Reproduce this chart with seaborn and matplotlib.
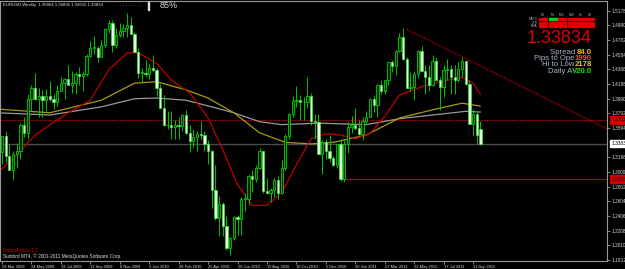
import numpy as np
import pandas as pd
import matplotlib
matplotlib.use("Agg")
import matplotlib.pyplot as plt
from matplotlib.patches import Rectangle
import seaborn as sns

# ---------------- data ----------------
weeks = ["29 Mar 2009","5 Apr 2009","12 Apr 2009","19 Apr 2009","26 Apr 2009","3 May 2009","10 May 2009","17 May 2009",
         "24 May 2009","31 May 2009","7 Jun 2009","14 Jun 2009","21 Jun 2009","28 Jun 2009","5 Jul 2009","12 Jul 2009",
         "19 Jul 2009","26 Jul 2009","2 Aug 2009","9 Aug 2009","16 Aug 2009","23 Aug 2009","30 Aug 2009","6 Sep 2009",
         "13 Sep 2009","20 Sep 2009","27 Sep 2009","4 Oct 2009","11 Oct 2009","18 Oct 2009","25 Oct 2009","1 Nov 2009",
         "8 Nov 2009","15 Nov 2009","22 Nov 2009","29 Nov 2009","6 Dec 2009","13 Dec 2009","20 Dec 2009","27 Dec 2009",
         "3 Jan 2010","10 Jan 2010","17 Jan 2010","24 Jan 2010","31 Jan 2010","7 Feb 2010","14 Feb 2010","21 Feb 2010",
         "28 Feb 2010","7 Mar 2010","14 Mar 2010","21 Mar 2010","28 Mar 2010","4 Apr 2010","11 Apr 2010","18 Apr 2010",
         "25 Apr 2010","2 May 2010","9 May 2010","16 May 2010","23 May 2010","30 May 2010","6 Jun 2010","13 Jun 2010",
         "20 Jun 2010","27 Jun 2010","4 Jul 2010","11 Jul 2010","18 Jul 2010","25 Jul 2010","1 Aug 2010","8 Aug 2010",
         "15 Aug 2010","22 Aug 2010","29 Aug 2010","5 Sep 2010","12 Sep 2010","19 Sep 2010","26 Sep 2010","3 Oct 2010",
         "10 Oct 2010","17 Oct 2010","24 Oct 2010","31 Oct 2010","7 Nov 2010","14 Nov 2010","21 Nov 2010","28 Nov 2010",
         "5 Dec 2010","12 Dec 2010","19 Dec 2010","26 Dec 2010","2 Jan 2011","9 Jan 2011","16 Jan 2011","23 Jan 2011",
         "30 Jan 2011","6 Feb 2011","13 Feb 2011","20 Feb 2011","27 Feb 2011","6 Mar 2011","13 Mar 2011","20 Mar 2011",
         "27 Mar 2011","3 Apr 2011","10 Apr 2011","17 Apr 2011","24 Apr 2011","1 May 2011","8 May 2011","15 May 2011",
         "22 May 2011","29 May 2011","5 Jun 2011","12 Jun 2011","19 Jun 2011","26 Jun 2011","3 Jul 2011","10 Jul 2011",
         "17 Jul 2011","24 Jul 2011","31 Jul 2011","7 Aug 2011","14 Aug 2011","21 Aug 2011","28 Aug 2011","4 Sep 2011",
         "11 Sep 2011","18 Sep 2011","25 Sep 2011"]

opens = [1.3270,1.3480,1.3220,1.3030,1.3240,1.3280,1.3630,1.3530,1.3990,1.4130,1.3980,1.4030,1.3970,1.4030,1.3980,1.3950,
         1.4100,1.4200,1.4250,1.4180,1.4200,1.4330,1.4300,1.4330,1.4570,1.4680,1.4680,1.4560,1.4710,1.4930,1.5010,1.4720,
         1.4850,1.4900,1.4950,1.4990,1.4860,1.4620,1.4340,1.4340,1.4330,1.4410,1.4380,1.4140,1.3860,1.3630,1.3630,1.3610,
         1.3630,1.3620,1.3770,1.3530,1.3420,1.3470,1.3520,1.3500,1.3380,1.3280,1.2760,1.2380,1.2570,1.2270,1.1970,1.2110,
         1.2390,1.2370,1.2640,1.2640,1.2940,1.2900,1.3060,1.3280,1.2750,1.2710,1.2760,1.2890,1.2710,1.3050,1.3490,1.3790,
         1.3960,1.3970,1.3950,1.3940,1.4030,1.3690,1.3670,1.3240,1.3410,1.3290,1.3190,1.3090,1.3380,1.2910,1.3380,1.3610,
         1.3630,1.3590,1.3520,1.3690,1.3750,1.3980,1.3900,1.4180,1.4090,1.4240,1.4480,1.4430,1.4640,1.4820,1.4530,1.4140,
         1.4150,1.4320,1.4640,1.4360,1.4290,1.4180,1.4500,1.4240,1.4150,1.4380,1.4390,1.4280,1.4240,1.4390,1.4500,1.4190,
         1.3650,1.3790,1.35864]
highs = [1.3490,1.3560,1.3380,1.3280,1.3390,1.3660,1.3740,1.4050,1.4180,1.4340,1.4140,1.4110,1.4120,1.4230,1.4060,1.4180,
         1.4280,1.4270,1.4450,1.4370,1.4350,1.4420,1.4360,1.4600,1.4770,1.4840,1.4700,1.4790,1.4940,1.5060,1.5060,1.4940,
         1.5010,1.5000,1.5145,1.5100,1.4890,1.4680,1.4400,1.4510,1.4460,1.4580,1.4400,1.4190,1.4040,1.3820,1.3820,1.3700,
         1.3740,1.3780,1.3840,1.3640,1.3580,1.3560,1.3690,1.3550,1.3430,1.3300,1.3090,1.2670,1.2590,1.2400,1.2120,1.2410,
         1.2420,1.2660,1.2720,1.2970,1.3030,1.3100,1.3330,1.3290,1.2920,1.2780,1.2920,1.2940,1.3160,1.3520,1.3800,1.4030,
         1.4160,1.4040,1.4010,1.4280,1.4070,1.3790,1.3790,1.3430,1.3440,1.3500,1.3220,1.3380,1.3440,1.3440,1.3680,1.3760,
         1.3860,1.3700,1.3740,1.3830,1.4000,1.4040,1.4190,1.4250,1.4250,1.4490,1.4520,1.4650,1.4880,1.4940,1.4560,1.4350,
         1.4360,1.4650,1.4700,1.4440,1.4450,1.4580,1.4550,1.4280,1.4440,1.4530,1.4450,1.4450,1.4480,1.4550,1.4520,1.4250,
         1.3850,1.3810,1.36895]
lows = [1.3110,1.3140,1.3030,1.2890,1.3050,1.3170,1.3470,1.3450,1.3830,1.3970,1.3750,1.3740,1.3820,1.3960,1.3850,1.3890,
        1.4090,1.3990,1.4200,1.4070,1.4050,1.4170,1.4100,1.4300,1.4560,1.4600,1.4480,1.4550,1.4690,1.4880,1.4620,1.4680,
        1.4830,1.4820,1.4830,1.4960,1.4630,1.4270,1.4220,1.4280,1.4260,1.4370,1.4030,1.3860,1.3620,1.3580,1.3440,1.3440,
        1.3440,1.3560,1.3520,1.3270,1.3340,1.3280,1.3450,1.3290,1.3110,1.2520,1.2350,1.2140,1.2140,1.1950,1.1876,1.2080,
        1.2150,1.2150,1.2470,1.2560,1.2730,1.2870,1.3040,1.2720,1.2700,1.2590,1.2660,1.2640,1.2700,1.3030,1.3450,1.3750,
        1.3880,1.3700,1.3700,1.3860,1.3640,1.3450,1.3240,1.2970,1.3170,1.3130,1.3080,1.3050,1.2880,1.2860,1.3260,1.3530,
        1.3570,1.3500,1.3430,1.3650,1.3750,1.3810,1.3740,1.4060,1.4050,1.4170,1.4350,1.4310,1.4620,1.4510,1.4140,1.4090,
        1.3970,1.4270,1.4380,1.4060,1.4100,1.4160,1.4240,1.3840,1.4020,1.4240,1.4050,1.4050,1.4220,1.4280,1.4180,1.3650,
        1.3490,1.3380,1.33615]
closes = [1.3480,1.3220,1.3030,1.3240,1.3280,1.3630,1.3530,1.3990,1.4130,1.3980,1.4030,1.3970,1.4030,1.3980,1.3950,1.4100,
          1.4200,1.4250,1.4180,1.4200,1.4330,1.4300,1.4330,1.4570,1.4680,1.4680,1.4560,1.4710,1.4930,1.5010,1.4720,1.4850,
          1.4900,1.4950,1.4990,1.4860,1.4620,1.4340,1.4340,1.4330,1.4410,1.4380,1.4140,1.3860,1.3630,1.3630,1.3610,1.3630,
          1.3620,1.3770,1.3530,1.3420,1.3470,1.3520,1.3500,1.3380,1.3280,1.2760,1.2380,1.2570,1.2270,1.1970,1.2110,1.2390,
          1.2370,1.2640,1.2640,1.2940,1.2900,1.3060,1.3280,1.2750,1.2710,1.2760,1.2890,1.2710,1.3050,1.3490,1.3790,1.3960,
          1.3970,1.3950,1.3940,1.4030,1.3690,1.3670,1.3240,1.3410,1.3290,1.3190,1.3090,1.3380,1.2910,1.3380,1.3610,1.3630,
          1.3590,1.3520,1.3690,1.3750,1.3980,1.3900,1.4180,1.4090,1.4240,1.4480,1.4430,1.4640,1.4820,1.4530,1.4140,1.4150,
          1.4320,1.4640,1.4360,1.4290,1.4180,1.4500,1.4240,1.4150,1.4380,1.4390,1.4280,1.4240,1.4390,1.4500,1.4190,1.3650,
          1.3790,1.3500,1.33834]

# moving averages, x = week index
ma_red_x = [-1, 4, 9, 14, 18, 24, 29, 34, 37, 42, 46, 51, 56, 60, 64, 68, 72, 76, 80, 84, 88, 92, 96, 100, 104, 108, 114, 119, 125, 128, 130]
ma_red_y = [1.300, 1.323, 1.350, 1.367, 1.380, 1.397, 1.438, 1.461, 1.461, 1.447, 1.424, 1.407, 1.373, 1.330, 1.283, 1.255, 1.255,
            1.272, 1.310, 1.345, 1.352, 1.350, 1.345, 1.352, 1.375, 1.404, 1.415, 1.422, 1.428, 1.420, 1.405]
ma_yel_x = [-1, 13, 27, 36, 42, 50, 56, 63, 70, 77, 84, 90, 99, 108, 117, 125, 130]
ma_yel_y = [1.385, 1.380, 1.397, 1.420, 1.422, 1.411, 1.400, 1.380, 1.353, 1.340, 1.338, 1.340, 1.350, 1.373, 1.384, 1.393, 1.389]
ma_gry_x = [-1, 13, 27, 36, 42, 50, 57, 63, 70, 76, 86, 99, 108, 117, 126, 130]
ma_gry_y = [1.380, 1.377, 1.388, 1.399, 1.400, 1.397, 1.388, 1.380, 1.368, 1.364, 1.366, 1.364, 1.372, 1.377, 1.382, 1.381]

trend_x = [110, 165]
trend_y = [1.4928, 1.3568]
hline_dotted = 1.3703
hline_solid = 1.2905
hline_solid_start = 92
bid_price = 1.33834

ytick_values = [1.51780, 1.49800, 1.47820, 1.45840, 1.43860, 1.41880, 1.39900, 1.37920, 1.35940,
                1.31980, 1.30000, 1.28020, 1.26040, 1.24060, 1.22080, 1.20100, 1.18120]
xtick_labels = ["29 Mar 2009","24 May 2009","19 Jul 2009","13 Sep 2009","8 Nov 2009","3 Jan 2010","28 Feb 2010",
                "25 Apr 2010","20 Jun 2010","15 Aug 2010","10 Oct 2010","5 Dec 2010","30 Jan 2011","27 Mar 2011",
                "22 May 2011","17 Jul 2011","11 Sep 2011"]

header = "EURUSD,Weekly  1.35864 1.36895 1.33615 1.33834"

# ---------------- drawing ----------------
sns.set_theme(style="dark")
plt.rcParams['font.family'] = ['Liberation Sans', 'DejaVu Sans']

W, H = 625, 269
fig = plt.figure(figsize=(W/100, H/100), dpi=100, facecolor="black")
ax = fig.add_axes([0/W, 8/H, 607/W, 260/H])
ax.set_facecolor("black")

df = pd.DataFrame({"week": weeks, "open": opens, "high": highs, "low": lows, "close": closes})
df["i"] = np.arange(len(df))
bull = df["close"] >= df["open"]

ax.vlines(df["i"], df["low"], df["high"], color="#00c400", lw=0.7, zorder=3)
body_lo = np.minimum(df["open"], df["close"])
body_h = np.maximum(np.abs(df["close"] - df["open"]), 0.0006)
ax.bar(df["i"][bull], body_h[bull], bottom=body_lo[bull], width=0.62,
       color="#062806", edgecolor="#00d000", linewidth=0.6, zorder=4)
ax.bar(df["i"][~bull], body_h[~bull], bottom=body_lo[~bull], width=0.62,
       color="#d8ffd8", edgecolor="#40e040", linewidth=0.5, zorder=4)

sns.lineplot(x=ma_gry_x, y=ma_gry_y, ax=ax, color="#9a9a9a", lw=0.9, zorder=2)
sns.lineplot(x=ma_yel_x, y=ma_yel_y, ax=ax, color="#a89a10", lw=0.9, zorder=2)
sns.lineplot(x=ma_red_x, y=ma_red_y, ax=ax, color="#c00000", lw=0.9, zorder=2)

xmin, xmax = -0.54, 164.4
ax.axhline(hline_dotted, color="#c00000", lw=0.8, ls=(0, (1.5, 1)), zorder=1)
ax.hlines(hline_solid, hline_solid_start, xmax, color="#b00000", lw=0.9, zorder=1)
ax.axhline(bid_price, color="#4a4a4a", lw=1.0, zorder=1)
ax.plot(trend_x, trend_y, color="#c00000", lw=0.8, ls=(0, (1.5, 1)), zorder=2)

ax.set_xlim(xmin, xmax)
ax.set_ylim(1.30 - 89/740, 1.30 + 171/740)

for s in ax.spines.values():
    s.set_visible(True)
    s.set_color("#9a9a9a")
    s.set_linewidth(0.8)

ax.yaxis.tick_right()
ax.set_yticks(ytick_values)
ax.set_yticklabels([f"{v:.5f}" for v in ytick_values])
ax.tick_params(axis="y", colors="#9a9a9a", labelcolor="#d8d8d8", labelsize=3.4, length=2, width=0.6, pad=1, right=True)

xpos = [weeks.index(l) for l in xtick_labels]
ax.set_xticks(xpos)
ax.set_xticklabels(xtick_labels, ha="left")
ax.tick_params(axis="x", colors="#9a9a9a", labelcolor="#d8d8d8", labelsize=2.9, length=2, width=0.6, pad=0.8, bottom=True)
ax.set_xlabel(""); ax.set_ylabel("")
ax.grid(False)

# price boxes on the right axis
def price_box(price, text, fc, tc):
    ax.annotate(text, xy=(1.0, price), xycoords=("axes fraction", "data"), xytext=(3, 0),
                textcoords="offset points", fontsize=3.4, color=tc, va="center", ha="left",
                bbox=dict(boxstyle="square,pad=0.25", fc=fc, ec=fc), annotation_clip=False, zorder=10)

price_box(hline_dotted, f"{hline_dotted:.5f}", "#d00000", "#300000")
price_box(bid_price, f"{bid_price:.5f}", "#ffffff", "#000000")
price_box(hline_solid, f"{hline_solid:.5f}", "#d00000", "#300000")

# overlay in pixel coordinates for the terminal texts
ov = fig.add_axes([0, 0, 1, 1], facecolor="none")
ov.set_xlim(0, W); ov.set_ylim(H, 0); ov.axis("off")

ov.text(3, 5, header, fontsize=3.1, color="#e8e8e8", va="center", ha="left")
ov.text(117, 5, ". . : . . . . . .", fontsize=4, color="#a0a0a0", va="center", ha="left")
ov.add_patch(Rectangle((147.5, 1.5), 1.2, 8, color="#e0e0e0"))
ov.text(160, 5.5, "85%", fontsize=6.5, color="#d8d8d8", va="center", ha="left")

cols = ["M1", "M5", "M15", "M30", "H1", "H4"]
col_x = [539, 548.5, 558, 567.5, 577, 586]
for c, cx in zip(cols, col_x):
    ov.text(cx + 4, 14.5, c, fontsize=2.2, color="#b0b0b0", ha="center", va="center")
rows = ["MACD", "STR", "EMA"]
row_y = [18, 21.5, 25]
for r, ry in zip(rows, row_y):
    ov.text(537.5, ry + 1, r, fontsize=2.2, color="#b0b0b0", ha="right", va="center")
    for cx in col_x:
        ov.add_patch(Rectangle((cx, ry), 8, 2.4, color="#e00000"))
ov.add_patch(Rectangle((col_x[1], 18.3), 8, 1.5, color="#20c020"))

ov.text(592, 38.5, "1.33834", fontsize=13, color="#e00000", ha="right", va="center")
lines = [("Spread ", "84.0", "#ffc000", 52),
         ("Pips to Ope", "1990", "#ff5000", 58.5),
         ("Hi to Low", "2178", "#ffc000", 65),
         ("Daily A", "V20.0", "#20e020", 71.5)]
for lab, val, vc, yy in lines:
    t = ov.text(592, yy, val, fontsize=5.6, color=vc, ha="right", va="center", fontweight="bold")
    fig.canvas.draw()
    bb = t.get_window_extent()
    x_left = bb.x0  # pixels
    ov.text(x_left, yy, lab, fontsize=5.6, color="#a8b4c4", ha="right", va="center")

ov.text(3, 250.5, "SwordFish b.1.2", fontsize=3.4, color="#d00000", ha="left", va="center")
ov.text(3, 256, "Sunbird MT4, \u00a9 2001-2011 MetaQuotes Software Corp.", fontsize=3.4, color="#e0e0e0", ha="left", va="center")

fig.savefig("out.png", dpi=100, facecolor="black")
